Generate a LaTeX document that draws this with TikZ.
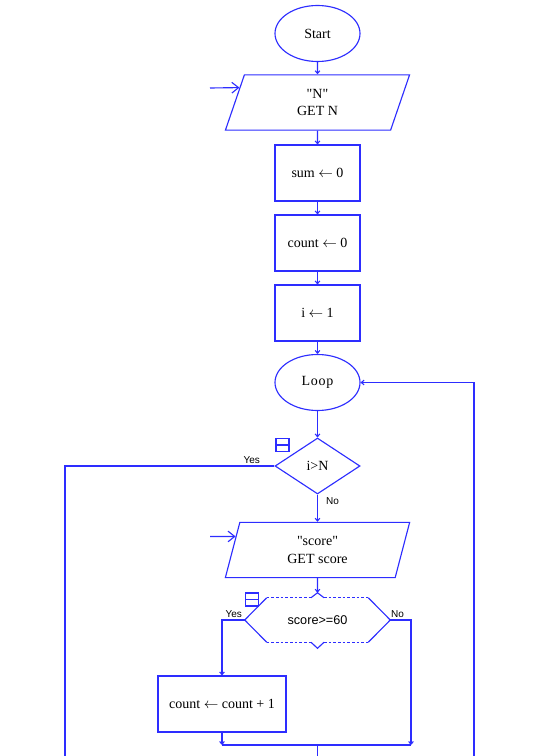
\documentclass[tikz,border=0pt]{standalone}
\usepackage{fontspec}
\setmainfont{Liberation Serif}
\newfontfamily\labelfont{Liberation Sans}
\usetikzlibrary{shapes.geometric,arrows.meta,calc}
\definecolor{flowblue}{RGB}{45,45,255}
\tikzset{
	flowline/.style={draw=flowblue, line width=0.85pt},
	conn/.style={flowline, -{Straight Barb[length=2pt,width=3.5pt]}},
	entry/.style={flowline, -{Straight Barb[length=5pt,width=8pt]}},
	boxtext/.style={font=\fontsize{10.5}{13}\selectfont, align=center},
	procbox/.style={rectangle, flowline, boxtext, minimum width=63.75pt, minimum height=42pt},
	termnode/.style={ellipse, flowline, boxtext, minimum width=63.75pt, minimum height=42pt, inner sep=0pt},
	inbox/.style={trapezium, trapezium left angle=79.7, trapezium right angle=100.3, trapezium stretches=true, flowline, boxtext, minimum width=138.75pt, minimum height=41.5pt},
	decnode/.style={diamond, flowline, boxtext, minimum width=63.75pt, minimum height=42pt, inner sep=0pt},
	yesno/.style={font=\labelfont\fontsize{7.5}{8}\selectfont, inner sep=0pt},
	iconbox/.style={rectangle, flowline, minimum size=9.75pt, inner sep=0pt, path picture={\draw[flowblue, line width=0.85pt] (path picture bounding box.west) -- (path picture bounding box.east);}}
}

\begin{document}
\begin{tikzpicture}[x=0.75pt,y=-0.75pt]
	%%%%% START %%%%%
	\useasboundingbox (0,0) rectangle (545,756);
	
	\node[termnode] (start) at (317.5,33.5) {Start};
	\node[inbox] (getn) at (317.5,102.5) {\textquotedbl N\textquotedbl\\GET N};
	\node[procbox] (sum) at (317.5,173) {sum $\leftarrow$ 0};
	\node[procbox] (count) at (317.5,243) {count $\leftarrow$ 0};
	\node[procbox] (init) at (317.5,313) {i $\leftarrow$ 1};
	\node[termnode] (loop) at (317.5,382.5) {L\kern0.6pt o\kern0.6pt o\kern0.6pt p};
	\node[decnode] (dec) at (317.5,466) {i>N};
	\node[inbox] (getsc) at (317.5,550) {\textquotedbl score\textquotedbl\\GET score};
	\node[font=\labelfont\fontsize{9.5}{11}\selectfont, minimum width=108.75pt, minimum height=33pt, inner sep=0pt] (chk) at (317.5,620) {score>=60};
	\node[procbox, minimum width=96pt] (cnt1) at (222,704) {count $\leftarrow$ count + 1};
	
	\node[iconbox] (decicon) at (282.5,445) {};
	\node[iconbox] (chkicon) at (252,599.5) {};
	
	% hexagon of the check
	\draw[flowline] ($(chk.north west)+(22,0)$) -- (chk.west) -- ($(chk.south west)+(22,0)$);
	\draw[flowline] ($(chk.north east)+(-22,0)$) -- (chk.east) -- ($(chk.south east)+(-22,0)$);
	\draw[flowline, line width=0.6pt, dash pattern=on 2pt off 1.5pt] ($(chk.north west)+(22,0)$) -- ($(chk.north)+(-6.5,0)$) ($(chk.north)+(6.5,0)$) -- ($(chk.north east)+(-22,0)$);
	\draw[flowline, line width=0.6pt, dash pattern=on 2pt off 1.5pt] ($(chk.south west)+(22,0)$) -- ($(chk.south)+(-6.5,0)$) ($(chk.south)+(6.5,0)$) -- ($(chk.south east)+(-22,0)$);
	\draw[flowline] ($(chk.north)+(-6.5,0)$) -- ($(chk.north)+(0,-5)$) coordinate (chktop) -- ($(chk.north)+(6.5,0)$);
	\draw[flowline] ($(chk.south)+(-6.5,0)$) -- ($(chk.south)+(0,6)$) -- ($(chk.south)+(6.5,0)$);
	
	\coordinate (inN) at (210,88);
	\coordinate (inscore) at (210,536.5);
	\coordinate (leftend) at (65,756);
	\coordinate (rightend) at (474,756);
	\coordinate (merge) at (317.5,745);
	\coordinate (downend) at (317.5,756);
	\coordinate (nojoin) at (411,745);
	\coordinate (yesjoin) at (cnt1 |- merge);
	
	\draw[entry] (inN) -- ($(getn.top left corner)!0.236!(getn.bottom left corner)$);
	\draw[entry] (inscore) -- ($(getsc.top left corner)!0.26!(getsc.bottom left corner)$);
	
	\draw[conn] (start) -- (getn);
	\draw[conn] (getn) -- (sum);
	\draw[conn] (sum) -- (count);
	\draw[conn] (count) -- (init);
	\draw[conn] (init) -- (loop);
	\draw[conn] (loop) -- (dec);
	\draw[conn] (dec) -- node[yesno, pos=0.25, right=6pt] {No} (getsc);
	\draw[conn] (getsc) -- (chktop);
	\draw[flowline] (dec.west) -| node[yesno, pos=0.054, above=1.5pt] {Yes} (leftend);
	\draw[conn] (rightend) |- (loop.east);
	
	\draw[conn] (chk.west) -| node[yesno, pos=0.24, above=1.5pt] {Yes} (cnt1.north);
	\draw[conn] (chk.east) -| node[yesno, pos=0.175, above=1.5pt] {No} (nojoin);
	\draw[conn] (cnt1) -- (yesjoin);
	\draw[flowline] (yesjoin) -- (nojoin);
	\draw[flowline] (merge) -- (downend);
	
	%%%%% END %%%%%
\end{tikzpicture}
\end{document}
